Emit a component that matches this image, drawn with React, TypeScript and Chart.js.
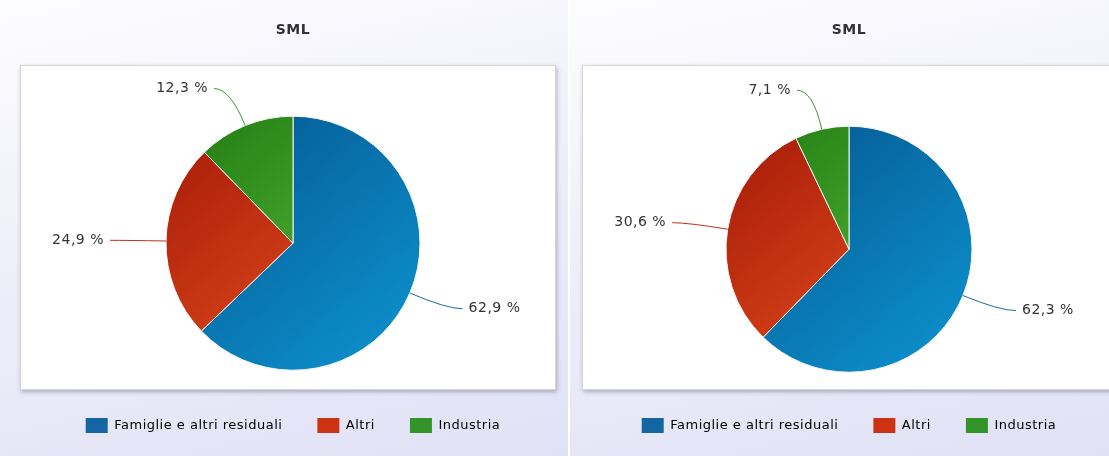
import React, { useEffect, useRef } from "react";
import { Chart, registerables } from "chart.js";

Chart.register(...registerables);

// ---- data ----
const categories = ["Famiglie e altri residuali", "Altri", "Industria"];
const panelTitles = ["SML", "SML"];
const valuesLeft = [62.9, 24.9, 12.3];
const valuesRight = [62.3, 30.6, 7.1];

// ---- styles ----
const colorsDark = ["#04548c", "#a41a08", "#1f7a12"];
const colorsLight = ["#0c90cc", "#ea521f", "#5ec03c"];
const legendColors = ["#1466a3", "#cc3312", "#33942a"];
const lineColors = ["#1a6d9e", "#c0301a", "#3a9a2a"];
const FONT = "'DejaVu Sans', 'Noto Sans', sans-serif";

const fmt = (v: number) => v.toFixed(1).replace(".", ",") + " %";

const spacingPlugin = {
  id: "spacing",
  beforeInit(chart: any) {
    chart.ctx.letterSpacing = "0.5px";
  },
  beforeUpdate(chart: any) {
    chart.ctx.letterSpacing = "0.5px";
  },
};

const plotBoxPlugin = {
  id: "plotBox",
  beforeDraw(chart: any, _args: any, opts: any) {
    const ctx = chart.ctx;
    const b = opts.box;
    ctx.save();
    ctx.shadowColor = "rgba(60,60,90,0.35)";
    ctx.shadowBlur = 4;
    ctx.shadowOffsetX = 1;
    ctx.shadowOffsetY = 2;
    ctx.fillStyle = "#ffffff";
    ctx.fillRect(b.x, b.y, b.w, b.h);
    ctx.restore();
    ctx.save();
    ctx.strokeStyle = "#d4d4dc";
    ctx.lineWidth = 1;
    ctx.strokeRect(b.x + 0.5, b.y + 0.5, b.w - 1, b.h - 1);
    ctx.restore();
  },
};

const pieLabelPlugin = {
  id: "pieLabels",
  afterDatasetsDraw(chart: any, _args: any, opts: any) {
    const meta = chart.getDatasetMeta(0);
    const ds = chart.data.datasets[0];
    const ctx = chart.ctx;
    meta.data.forEach((arc: any, i: number) => {
      const p = arc.getProps(["x", "y", "startAngle", "endAngle", "outerRadius"], true);
      const mid = (p.startAngle + p.endAngle) / 2;
      const dx = Math.cos(mid);
      const dy = Math.sin(mid);
      const p0 = { x: p.x + dx * p.outerRadius, y: p.y + dy * p.outerRadius };
      const R = p.outerRadius + opts.distance;
      const a = { x: p.x + dx * R, y: p.y + dy * R };
      const side = dx >= 0 ? 1 : -1;
      const t = { x: a.x + side * opts.tail, y: a.y };
      ctx.save();
      ctx.strokeStyle = lineColors[i];
      ctx.lineWidth = 1;
      ctx.beginPath();
      ctx.moveTo(t.x, t.y);
      ctx.quadraticCurveTo(a.x, a.y, p0.x, p0.y);
      ctx.stroke();
      ctx.font = `14px ${FONT}`;
      ctx.letterSpacing = "0.5px";
      ctx.fillStyle = "#333333";
      ctx.textAlign = side > 0 ? "left" : "right";
      ctx.textBaseline = "middle";
      ctx.fillText(fmt(ds.data[i]), t.x + side * opts.gap, t.y);
      ctx.restore();
    });
  },
};

type PanelProps = {
  title: string;
  values: number[];
  radius: number;
  padLeft: number;
  padRight: number;
  titleGap: number;
  box: { x: number; y: number; w: number; h: number };
  left: number;
  width: number;
};

function PiePanel(props: PanelProps) {
  const ref = useRef<HTMLCanvasElement | null>(null);
  useEffect(() => {
    if (!ref.current) return;
    const radius = props.radius;
    const chart = new Chart(ref.current, {
      type: "pie",
      data: {
        labels: categories,
        datasets: [
          {
            data: props.values,
            radius: radius,
            borderColor: "#f6f6f6",
            borderWidth: 1,
            backgroundColor: (c: any) => {
              const ch = c.chart;
              const area = ch.chartArea;
              const i = c.dataIndex ?? 0;
              if (!area) return colorsDark[i];
              const cx = (area.left + area.right) / 2;
              const cy = (area.top + area.bottom) / 2;
              const g = ch.ctx.createLinearGradient(cx - radius, cy - radius, cx + radius * 0.7, cy + radius);
              g.addColorStop(0, colorsDark[i]);
              g.addColorStop(1, colorsLight[i]);
              return g;
            },
          } as any,
        ],
      },
      options: {
        responsive: false,
        animation: false,
        layout: { padding: { left: props.padLeft, right: props.padRight, top: 0, bottom: 13 } },
        plugins: {
          title: {
            display: true,
            text: props.title,
            color: "#333333",
            font: { family: FONT, size: 14, weight: "bold" },
            padding: { top: 22, bottom: props.titleGap },
          },
          legend: {
            display: true,
            position: "bottom",
            labels: {
              boxWidth: 22,
              boxHeight: 15,
              padding: 35,
              color: "#333333",
              font: { family: FONT, size: 13 },
              generateLabels: () =>
                categories.map((t, i) => ({
                  text: t,
                  fillStyle: legendColors[i],
                  strokeStyle: legendColors[i],
                  lineWidth: 0,
                  hidden: false,
                  index: i,
                })),
            },
          },
          tooltip: { enabled: false },
          plotBox: { box: props.box },
          pieLabels: { distance: 40, tail: 16, gap: 6 },
        } as any,
      },
      plugins: [spacingPlugin, plotBoxPlugin, pieLabelPlugin],
    });
    return () => chart.destroy();
  }, []);
  return (
    <div
      style={{
        position: "absolute",
        left: props.left,
        top: 0,
        width: props.width,
        height: 456,
        background: "linear-gradient(168deg, #fdfdff 0%, #f2f2fb 35%, #e1e1f6 100%)",
      }}
    >
      <canvas ref={ref} width={568} height={456} style={{ width: 568, height: 456, display: "block" }} />
    </div>
  );
}

export default function App() {
  return (
    <div
      style={{
        position: "fixed",
        left: 0,
        top: 0,
        width: 1109,
        height: 456,
        overflow: "hidden",
        background: "#ffffff",
      }}
    >
      <PiePanel
        title={panelTitles[0]}
        values={valuesLeft}
        radius={127}
        padLeft={20}
        padRight={2}
        titleGap={64.6}
        box={{ x: 20, y: 65, w: 536, h: 325 }}
        left={0}
        width={568}
      />
      <PiePanel
        title={panelTitles[1]}
        values={valuesRight}
        radius={123}
        padLeft={20}
        padRight={30}
        titleGap={76.6}
        box={{ x: 12, y: 65, w: 560, h: 325 }}
        left={570}
        width={539}
      />
    </div>
  );
}
